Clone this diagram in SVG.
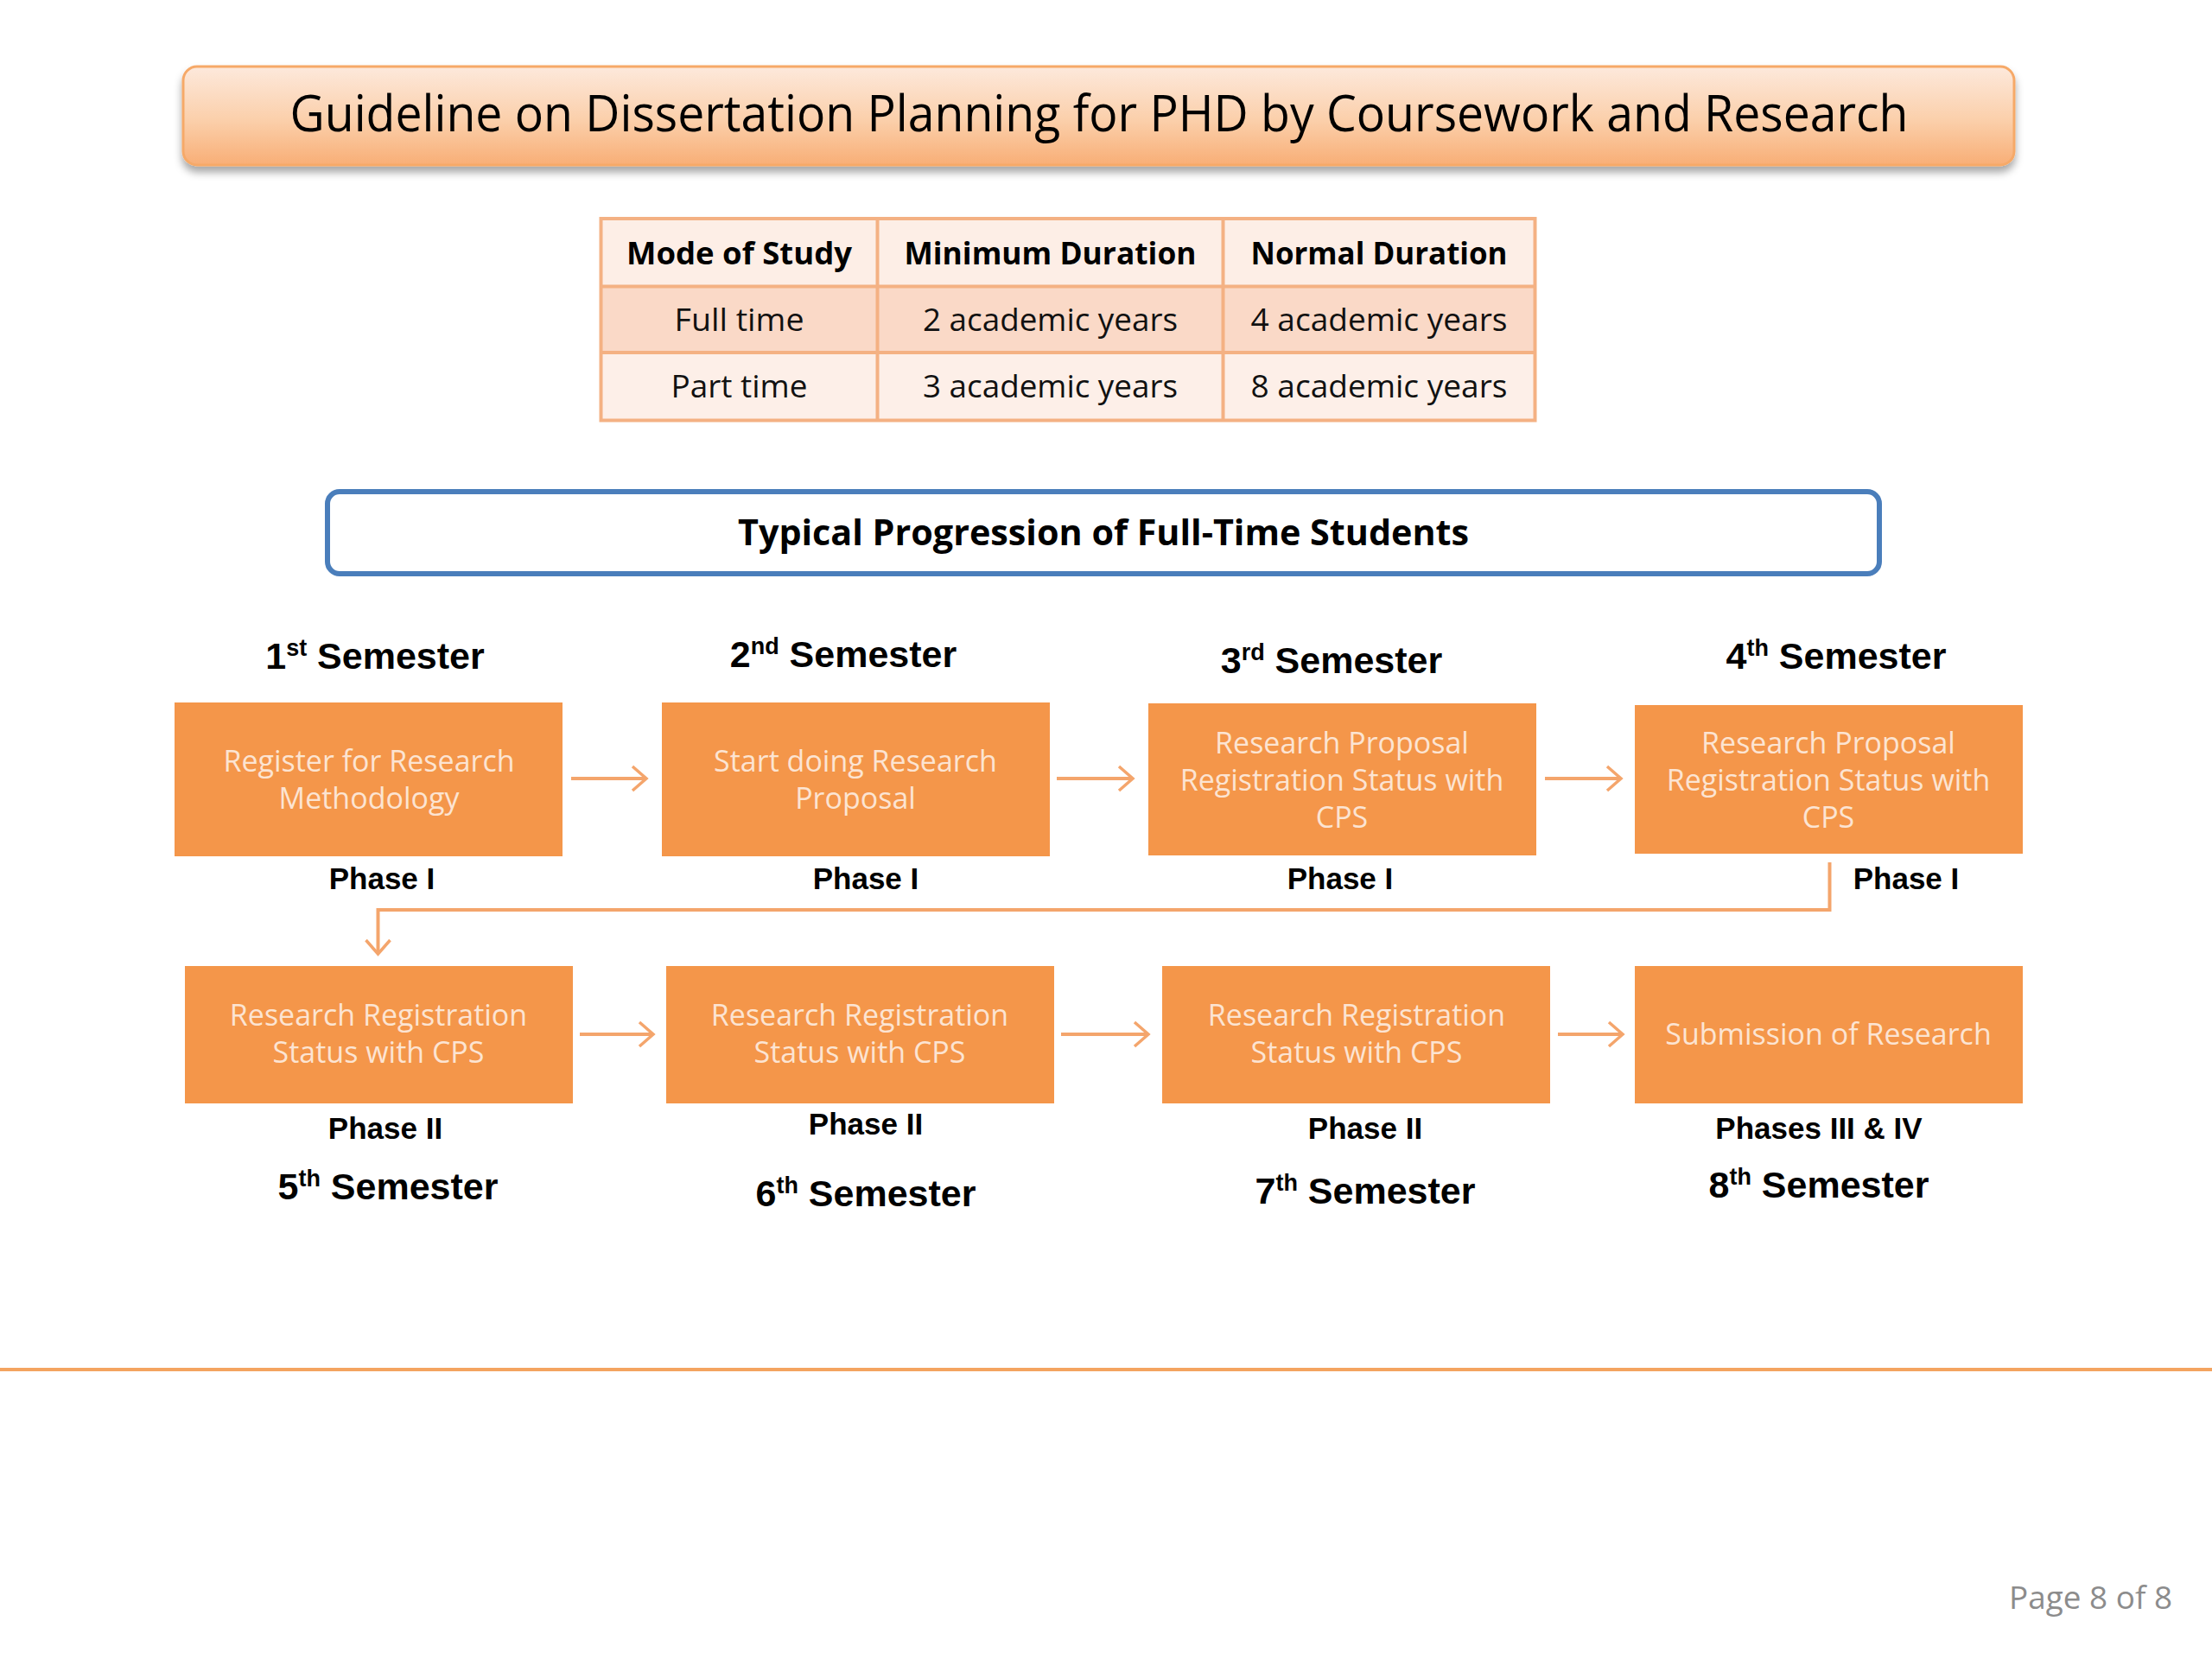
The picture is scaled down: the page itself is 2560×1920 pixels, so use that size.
<svg xmlns="http://www.w3.org/2000/svg" width="2560" height="1920" viewBox="0 0 2560 1920">
<defs>
<linearGradient id="titleGrad" x1="0" y1="0" x2="0" y2="1">
<stop offset="0" stop-color="#fde9dc"/>
<stop offset="0.55" stop-color="#fbcfaa"/>
<stop offset="1" stop-color="#f8ae76"/>
</linearGradient>
<filter id="shadow" x="-5%" y="-30%" width="110%" height="170%">
<feDropShadow dx="0" dy="7" stdDeviation="5" flood-color="#000" flood-opacity="0.35"/>
</filter>
<marker id="arr" markerUnits="userSpaceOnUse" viewBox="-20 -17 24 34" refX="0" refY="0" markerWidth="24" markerHeight="34" orient="auto">
<path d="M-16,-14 L0,0 L-16,14" fill="none" stroke="#f4a56c" stroke-width="3.5" stroke-linejoin="miter"/>
</marker>
<style>
.box{fill:#f4964a;}
.btxt{font-family:"Open Sans","Noto Sans",sans-serif;font-size:34px;fill:#fce4d2;text-anchor:middle;}
.sem{font-family:"Liberation Sans",Arial,sans-serif;font-weight:bold;font-size:43px;fill:#000;text-anchor:middle;}
.sup{font-size:27px;}
.phase{font-family:"Liberation Sans",Arial,sans-serif;font-weight:bold;font-size:35px;fill:#000;text-anchor:middle;}
.th{font-family:"Open Sans","Noto Sans",sans-serif;font-weight:bold;font-size:36px;fill:#000;text-anchor:middle;}
.td{font-family:"Open Sans","Noto Sans",sans-serif;font-size:36px;fill:#111;text-anchor:middle;}
.conn{fill:none;stroke:#f4a56c;stroke-width:4;}
.tline{stroke:#f4b183;stroke-width:4;}
</style>
</defs>
<rect x="0" y="0" width="2560" height="1920" fill="#ffffff"/>

<g id="title">
<rect x="212" y="77" width="2119" height="114" rx="16" fill="url(#titleGrad)" stroke="#f6a968" stroke-width="3" filter="url(#shadow)"/>
<text x="1272" y="152" font-family="'Open Sans','Noto Sans',sans-serif" font-size="58" fill="#000" text-anchor="middle" textLength="1873" lengthAdjust="spacingAndGlyphs">Guideline on Dissertation Planning for PHD by Coursework and Research</text>
</g>

<g id="duration-table">
<rect x="695.5" y="253" width="1081" height="78.5" fill="#fdeee6"/>
<rect x="695.5" y="331.5" width="1081" height="76.5" fill="#fad9c7"/>
<rect x="695.5" y="408" width="1081" height="78.5" fill="#fdefe8"/>
<rect x="695.5" y="253" width="1081" height="233.5" fill="none" class="tline"/>
<line x1="695.5" y1="331.5" x2="1776.5" y2="331.5" class="tline"/>
<line x1="695.5" y1="408" x2="1776.5" y2="408" class="tline"/>
<line x1="1015.5" y1="253" x2="1015.5" y2="486.5" class="tline"/>
<line x1="1415.5" y1="253" x2="1415.5" y2="486.5" class="tline"/>
<text class="th" x="855.5" y="306" textLength="261" lengthAdjust="spacingAndGlyphs">Mode of Study</text>
<text class="th" x="1215.5" y="306" textLength="338" lengthAdjust="spacingAndGlyphs">Minimum Duration</text>
<text class="th" x="1596" y="306" textLength="297" lengthAdjust="spacingAndGlyphs">Normal Duration</text>
<text class="td" x="855.5" y="383" textLength="150" lengthAdjust="spacingAndGlyphs">Full time</text>
<text class="td" x="1215.5" y="383" textLength="295" lengthAdjust="spacingAndGlyphs">2 academic years</text>
<text class="td" x="1596" y="383" textLength="297" lengthAdjust="spacingAndGlyphs">4 academic years</text>
<text class="td" x="855.5" y="460" textLength="158" lengthAdjust="spacingAndGlyphs">Part time</text>
<text class="td" x="1215.5" y="460" textLength="295" lengthAdjust="spacingAndGlyphs">3 academic years</text>
<text class="td" x="1596" y="460" textLength="297" lengthAdjust="spacingAndGlyphs">8 academic years</text>
</g>

<g id="progression-header">
<rect x="379" y="569" width="1796" height="95" rx="14" fill="#ffffff" stroke="#4a7ebb" stroke-width="6"/>
<text x="1277" y="631" font-family="'Open Sans','Noto Sans',sans-serif" font-weight="bold" font-size="42" fill="#000" text-anchor="middle" textLength="846" lengthAdjust="spacingAndGlyphs">Typical Progression of Full-Time Students</text>
</g>

<g id="semester-labels">
<text class="sem" x="434" y="774">1<tspan class="sup" dy="-15">st</tspan><tspan dy="15"> Semester</tspan></text>
<text class="sem" x="976" y="772">2<tspan class="sup" dy="-15">nd</tspan><tspan dy="15"> Semester</tspan></text>
<text class="sem" x="1541" y="779">3<tspan class="sup" dy="-15">rd</tspan><tspan dy="15"> Semester</tspan></text>
<text class="sem" x="2125" y="774">4<tspan class="sup" dy="-15">th</tspan><tspan dy="15"> Semester</tspan></text>
<text class="sem" x="449" y="1388">5<tspan class="sup" dy="-15">th</tspan><tspan dy="15"> Semester</tspan></text>
<text class="sem" x="1002" y="1396">6<tspan class="sup" dy="-15">th</tspan><tspan dy="15"> Semester</tspan></text>
<text class="sem" x="1580" y="1393">7<tspan class="sup" dy="-15">th</tspan><tspan dy="15"> Semester</tspan></text>
<text class="sem" x="2105" y="1386">8<tspan class="sup" dy="-15">th</tspan><tspan dy="15"> Semester</tspan></text>
</g>

<g id="connectors">
<line class="conn" x1="661" y1="901" x2="748" y2="901" marker-end="url(#arr)"/>
<line class="conn" x1="1223" y1="901" x2="1311" y2="901" marker-end="url(#arr)"/>
<line class="conn" x1="1788" y1="901" x2="1876" y2="901" marker-end="url(#arr)"/>
<polyline class="conn" stroke-width="3.5" points="2117.5,998 2117.5,1053 437.5,1053 437.5,1104" marker-end="url(#arr)"/>
<line class="conn" x1="671" y1="1197" x2="756" y2="1197" marker-end="url(#arr)"/>
<line class="conn" x1="1228" y1="1197" x2="1329" y2="1197" marker-end="url(#arr)"/>
<line class="conn" x1="1803" y1="1197" x2="1878" y2="1197" marker-end="url(#arr)"/>
</g>

<g id="sem1">
<rect class="box" x="202" y="813" width="449" height="178"/>
<text class="btxt" x="427" y="893">Register for Research</text>
<text class="btxt" x="427" y="936">Methodology</text>
<text class="phase" x="442" y="1029">Phase I</text>
</g>
<g id="sem2">
<rect class="box" x="766" y="813" width="449" height="178"/>
<text class="btxt" x="990" y="893">Start doing Research</text>
<text class="btxt" x="990" y="936">Proposal</text>
<text class="phase" x="1002" y="1029">Phase I</text>
</g>
<g id="sem3">
<rect class="box" x="1329" y="814" width="449" height="176"/>
<text class="btxt" x="1553" y="872">Research Proposal</text>
<text class="btxt" x="1553" y="915">Registration Status with</text>
<text class="btxt" x="1553" y="958">CPS</text>
<text class="phase" x="1551" y="1029">Phase I</text>
</g>
<g id="sem4">
<rect class="box" x="1892" y="816" width="449" height="172"/>
<text class="btxt" x="2116" y="872">Research Proposal</text>
<text class="btxt" x="2116" y="915">Registration Status with</text>
<text class="btxt" x="2116" y="958">CPS</text>
<text class="phase" x="2206" y="1029">Phase I</text>
</g>
<g id="sem5">
<rect class="box" x="214" y="1118" width="449" height="159"/>
<text class="btxt" x="438" y="1187">Research Registration</text>
<text class="btxt" x="438" y="1230">Status with CPS</text>
<text class="phase" x="446" y="1318">Phase II</text>
</g>
<g id="sem6">
<rect class="box" x="771" y="1118" width="449" height="159"/>
<text class="btxt" x="995" y="1187">Research Registration</text>
<text class="btxt" x="995" y="1230">Status with CPS</text>
<text class="phase" x="1002" y="1313">Phase II</text>
</g>
<g id="sem7">
<rect class="box" x="1345" y="1118" width="449" height="159"/>
<text class="btxt" x="1570" y="1187">Research Registration</text>
<text class="btxt" x="1570" y="1230">Status with CPS</text>
<text class="phase" x="1580" y="1318">Phase II</text>
</g>
<g id="sem8">
<rect class="box" x="1892" y="1118" width="449" height="159"/>
<text class="btxt" x="2116" y="1209">Submission of Research</text>
<text class="phase" x="2105" y="1318">Phases III &amp; IV</text>
</g>

<g id="footer">
<line x1="0" y1="1585" x2="2560" y2="1585" stroke="#f4a460" stroke-width="4"/>
<text x="2514" y="1862" font-family="'Open Sans','Noto Sans',sans-serif" font-size="36" fill="#8c8c8c" text-anchor="end" textLength="189" lengthAdjust="spacingAndGlyphs">Page 8 of 8</text>
</g>
</svg>
